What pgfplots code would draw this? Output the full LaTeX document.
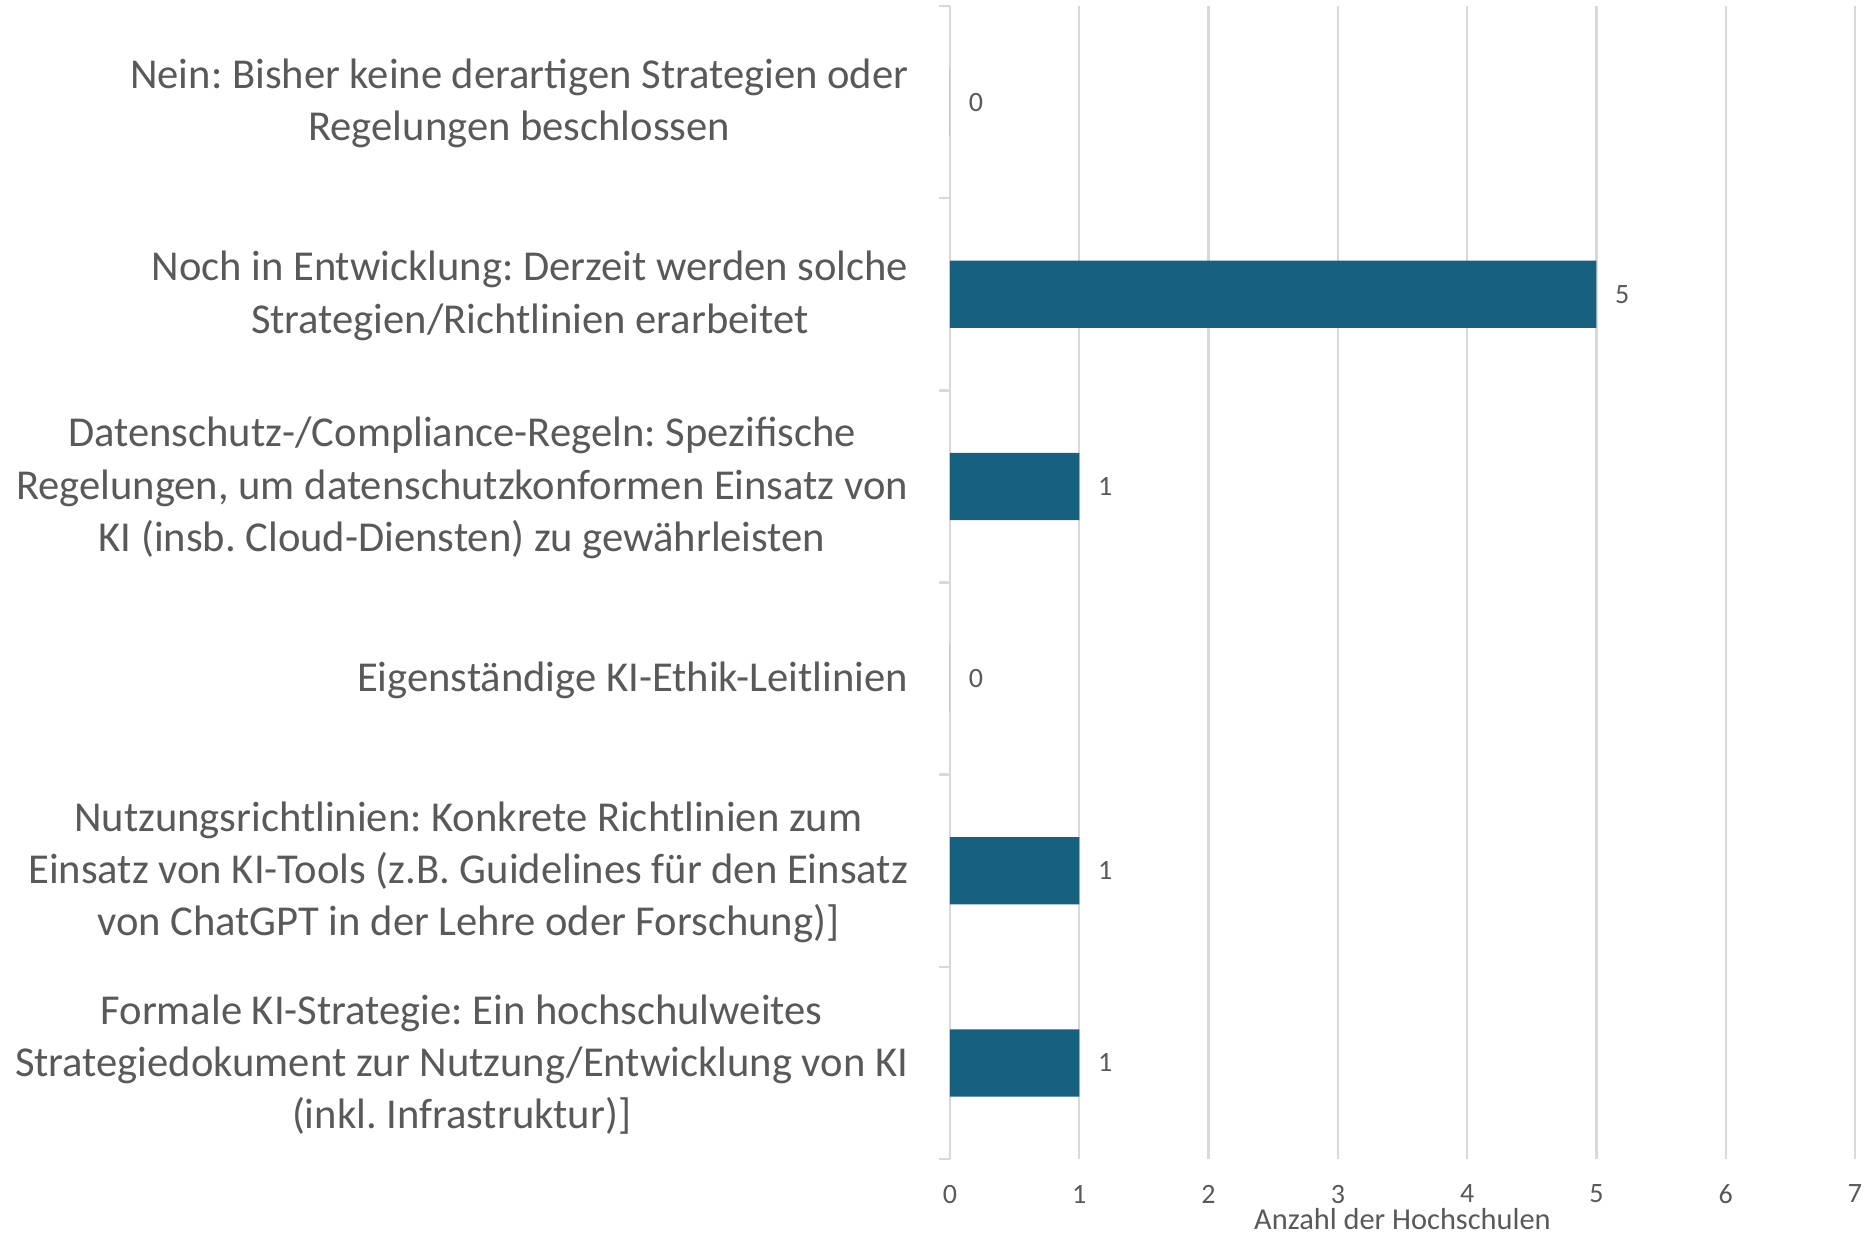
\documentclass[border=0pt]{standalone}
\usepackage{fontspec}
\setmainfont{Carlito}
\usepackage{pgfplots}
\pgfplotsset{compat=1.18}
\definecolor{barblue}{RGB}{23,96,128}
\definecolor{txtgray}{RGB}{89,89,89}
\definecolor{gridgray}{RGB}{217,217,217}
\frenchspacing
\begin{document}
\begin{tikzpicture}
\begin{axis}[
  /pgf/number format/assume math mode=true,
  scale only axis, width=226.25pt, height=288.25pt,
  xbar, bar width=0.35,
  xmin=0, xmax=7, ymin=-0.5, ymax=5.5,
  xtick={0,...,7},
  ytick={0,...,5},
  minor ytick={-0.5,0.5,...,5.5},
  yticklabels={
    {Formale KI-Strategie: Ein hochschulweites\\Strategiedokument zur Nutzung/Entwicklung von KI\\(inkl. Infrastruktur)]},
    {Nutzungsrichtlinien: Konkrete Richtlinien zum\\Einsatz von KI-Tools (z.B. Guidelines für den Einsatz\\von ChatGPT in der Lehre oder Forschung)]},
    {Eigenständige KI-Ethik-Leitlinien},
    {Datenschutz-/Compliance-Regeln: Spezifische\\Regelungen, um datenschutzkonformen Einsatz von\\KI (insb. Cloud-Diensten) zu gewährleisten},
    {Noch in Entwicklung: Derzeit werden solche\\Strategien/Richtlinien erarbeitet},
    {Nein: Bisher keine derartigen Strategien oder\\Regelungen beschlossen}
  },
  axis x line*=bottom, axis y line*=left,
  x axis line style={draw=none},
  y axis line style={draw=gridgray, line width=0.6pt},
  xmajorgrids, major grid style={draw=gridgray, line width=0.6pt},
  major tick length=0pt, minor tick length=2.75pt, tick align=outside,
  minor tick style={draw=gridgray, line width=0.6pt},
  yticklabel style={font=\fontsize{10.65}{13.05}\selectfont, color=txtgray, align=center, inner sep=0pt, anchor=east, xshift=-10.25pt, yshift=-0.4pt},
  xticklabel style={font=\fontsize{7}{8}\selectfont, color=txtgray, inner sep=0pt, anchor=north, yshift=-6.3pt},
  xlabel={Anzahl der Hochschulen},
  xlabel style={at={(axis description cs:0.5,0)}, anchor=center, yshift=-15pt, font=\fontsize{7.6}{8}\selectfont, color=txtgray, inner sep=0pt},
  nodes near coords, nodes near coords align=horizontal,
  every node near coord/.append style={font=\fontsize{7}{8}\selectfont, color=txtgray, anchor=west, inner sep=0pt, xshift=4.5pt},
]
\addplot[fill=barblue, draw=none] coordinates {(1,0) (1,1) (0,2) (1,3) (5,4) (0,5)};
\coordinate (bl) at (rel axis cs:0,0);
\coordinate (tr) at (rel axis cs:1,1);
\end{axis}
\path (bl) ++(-237.5pt,-18.75pt) coordinate (A);
\path (tr) ++(3.75pt,1.5pt) coordinate (B);
\pgfresetboundingbox
\useasboundingbox (A) rectangle (B);
\end{tikzpicture}
\end{document}
